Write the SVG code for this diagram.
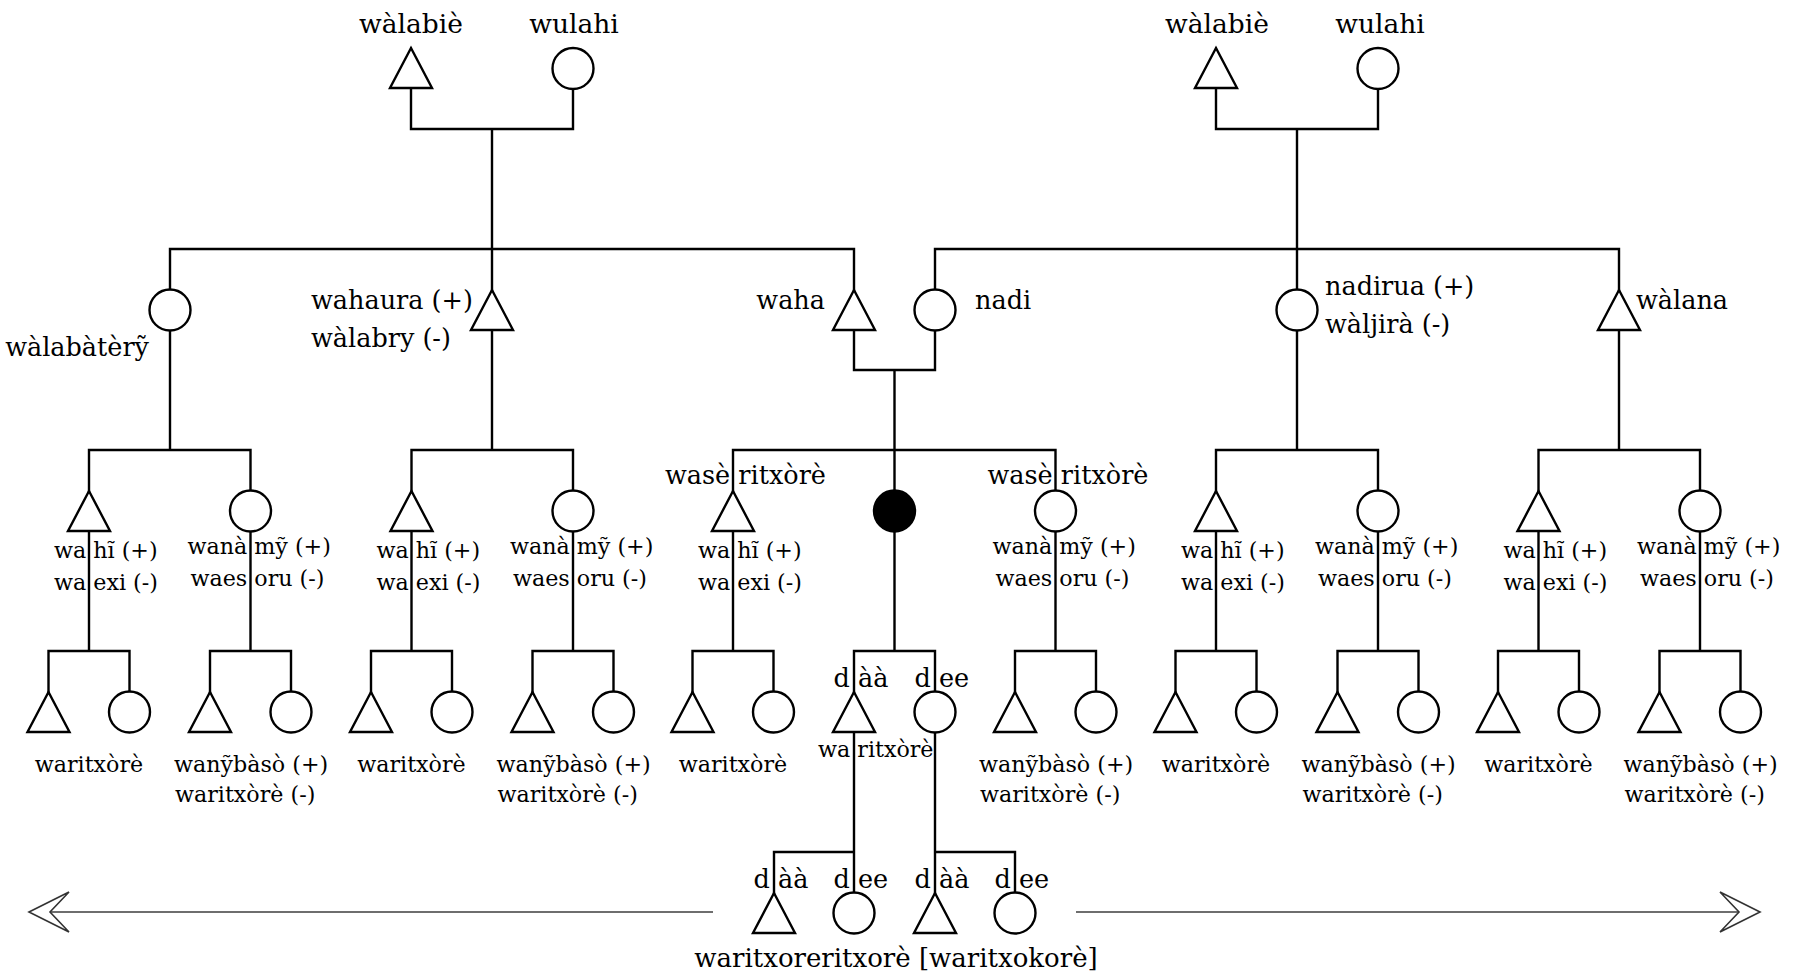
<svg xmlns="http://www.w3.org/2000/svg" xmlns:xlink="http://www.w3.org/1999/xlink" width="1796" height="976" viewBox="0 0 1796 976">
  <style>
    .ln { fill: none; stroke: #000; stroke-width: 2.4; stroke-linecap: square; }
    .nd { fill: #fff; stroke: #000; stroke-width: 2.4; stroke-linejoin: miter; }
    .ego { fill: #000; stroke: #000; stroke-width: 2.4; }
    .arr { fill: none; stroke: #6e6e6e; stroke-width: 2; }
    .head { fill: #fff; stroke: #333; stroke-width: 1.6; stroke-linejoin: miter; }
    text { font-family: "DejaVu Serif", "Liberation Serif", serif; fill: #000; }
    .t0 { font-size: 26.5px; text-anchor: middle; }
    .t1 { font-size: 25.5px; }
    .t2 { font-size: 22.2px; }
    .t3 { font-size: 26px; text-anchor: middle; }
    .mid { text-anchor: middle; }
    .end { text-anchor: end; }
  </style>
  <defs>
    <!-- male: apex at origin; female: centre at origin -->
    <path id="m" class="nd" d="M0,0 L21,40 L-21,40 Z"/>
    <circle id="f" class="nd" r="20.5"/>
  </defs>

  <rect width="1796" height="976" fill="#fff"/>

  <!-- kinship lines -->
  <g id="connectors" class="ln">
    <!-- grandparents -->
    <path d="M411,89 V129 H573 V89 M492,129 V290 M170,290 V249 H854 V290"/>
    <path d="M1216,89 V129 H1378 V89 M1297,129 V290 M935,290 V249 H1619 V290"/>
    <!-- first generation to second -->
    <path d="M170,330 V450 M89,491 V450 H250.5 V490.5"/>
    <path d="M492,330 V450 M411.5,491 V450 H573 V490.5"/>
    <path d="M854,330 V370 H935 V330 M894.5,370 V490.5 M733,491 V450 H1055.5 V490.5"/>
    <path d="M1297,330 V450 M1216,491 V450 H1378 V490.5"/>
    <path d="M1619,330 V450 M1538.5,491 V450 H1700 V490.5"/>
    <!-- second generation to third -->
    <path d="M89,531 V651 M48.5,692 V651 H129.5 V691.5"/>
    <path d="M250.5,531 V651 M210,692 V651 H291 V691.5"/>
    <path d="M411.5,531 V651 M371,692 V651 H452 V691.5"/>
    <path d="M573,531 V651 M532.5,692 V651 H613.5 V691.5"/>
    <path d="M733,531 V651 M692.5,692 V651 H773.5 V691.5"/>
    <path d="M894.5,531 V651 M854,692 V651 H935 V691.5"/>
    <path d="M1055.5,531 V651 M1015,692 V651 H1096 V691.5"/>
    <path d="M1216,531 V651 M1175.5,692 V651 H1256.5 V691.5"/>
    <path d="M1378,531 V651 M1337.5,692 V651 H1418.5 V691.5"/>
    <path d="M1538.5,531 V651 M1498,692 V651 H1579 V691.5"/>
    <path d="M1700,531 V651 M1659.5,692 V651 H1740.5 V691.5"/>
    <!-- twins to fourth generation -->
    <path d="M854,732 V892.5 M774,893 V852 H854"/>
    <path d="M935,732.5 V893 M935,852 H1015 V892.5"/>
  </g>

  <!-- generation 0 -->
  <g id="gp-left-m"><use xlink:href="#m" x="411" y="48"/><text class="t0" x="411" y="33">wàlabiè</text></g>
  <g id="gp-left-f"><use xlink:href="#f" x="573" y="68.5"/><text class="t0" x="574" y="33">wulahi</text></g>
  <g id="gp-right-m"><use xlink:href="#m" x="1216" y="48"/><text class="t0" x="1217" y="33">wàlabiè</text></g>
  <g id="gp-right-f"><use xlink:href="#f" x="1378" y="68.5"/><text class="t0" x="1380" y="33">wulahi</text></g>

  <!-- generation 1 -->
  <g id="walabateri"><use xlink:href="#f" x="170" y="310"/><text class="t1 end" x="149" y="356">wàlabàtèrỹ</text></g>
  <g id="wahaura"><use xlink:href="#m" x="492" y="290"/><text class="t1" x="311" y="309">wahaura (+)</text><text class="t1" x="311" y="347">wàlabry (-)</text></g>
  <g id="waha"><use xlink:href="#m" x="854" y="290"/><text class="t1 end" x="825" y="309">waha</text></g>
  <g id="nadi"><use xlink:href="#f" x="935" y="310"/><text class="t1" x="975" y="309">nadi</text></g>
  <g id="nadirua"><use xlink:href="#f" x="1297" y="310"/><text class="t1" x="1325" y="295">nadirua (+)</text><text class="t1" x="1325" y="333">wàljirà (-)</text></g>
  <g id="walana"><use xlink:href="#m" x="1619" y="290"/><text class="t1" x="1636" y="309">wàlana</text></g>

  <!-- generation 2 -->
  <g id="g2-1m"><use xlink:href="#m" x="89" y="491"/><text class="t2" x="54" y="558">wa hĩ (+)</text><text class="t2" x="54" y="590">wa exi (-)</text></g>
  <g id="g2-1f"><use xlink:href="#f" x="250.5" y="511"/><text class="t2" x="187.5" y="554">wanà mỹ (+)</text><text class="t2" x="190.5" y="586">waes oru (-)</text></g>
  <g id="g2-2m"><use xlink:href="#m" x="411.5" y="491"/><text class="t2" x="376.5" y="558">wa hĩ (+)</text><text class="t2" x="376.5" y="590">wa exi (-)</text></g>
  <g id="g2-2f"><use xlink:href="#f" x="573" y="511"/><text class="t2" x="510" y="554">wanà mỹ (+)</text><text class="t2" x="513" y="586">waes oru (-)</text></g>
  <g id="g2-3m"><use xlink:href="#m" x="733" y="491"/><text class="t1" x="665" y="484">wasè ritxòrè</text><text class="t2" x="698" y="558">wa hĩ (+)</text><text class="t2" x="698" y="590">wa exi (-)</text></g>
  <g id="ego"><circle class="ego" cx="894.5" cy="511" r="20.5"/></g>
  <g id="g2-3f"><use xlink:href="#f" x="1055.5" y="511"/><text class="t1" x="987.5" y="484">wasè ritxòrè</text><text class="t2" x="992.5" y="554">wanà mỹ (+)</text><text class="t2" x="995.5" y="586">waes oru (-)</text></g>
  <g id="g2-4m"><use xlink:href="#m" x="1216" y="491"/><text class="t2" x="1181" y="558">wa hĩ (+)</text><text class="t2" x="1181" y="590">wa exi (-)</text></g>
  <g id="g2-4f"><use xlink:href="#f" x="1378" y="511"/><text class="t2" x="1315" y="554">wanà mỹ (+)</text><text class="t2" x="1318" y="586">waes oru (-)</text></g>
  <g id="g2-5m"><use xlink:href="#m" x="1538.5" y="491"/><text class="t2" x="1503.5" y="558">wa hĩ (+)</text><text class="t2" x="1503.5" y="590">wa exi (-)</text></g>
  <g id="g2-5f"><use xlink:href="#f" x="1700" y="511"/><text class="t2" x="1637" y="554">wanà mỹ (+)</text><text class="t2" x="1640" y="586">waes oru (-)</text></g>

  <!-- generation 3 -->
  <g id="g3-1m"><use xlink:href="#m" x="48.5" y="692"/><use xlink:href="#f" x="129.5" y="712"/><text class="t2 mid" x="89" y="772">waritxòrè</text></g>
  <g id="g3-1f"><use xlink:href="#m" x="210" y="692"/><use xlink:href="#f" x="291" y="712"/><text class="t2" x="174" y="772">wanỹbàsò (+)</text><text class="t2" x="175" y="802">waritxòrè (-)</text></g>
  <g id="g3-2m"><use xlink:href="#m" x="371" y="692"/><use xlink:href="#f" x="452" y="712"/><text class="t2 mid" x="411.5" y="772">waritxòrè</text></g>
  <g id="g3-2f"><use xlink:href="#m" x="532.5" y="692"/><use xlink:href="#f" x="613.5" y="712"/><text class="t2" x="496.5" y="772">wanỹbàsò (+)</text><text class="t2" x="497.5" y="802">waritxòrè (-)</text></g>
  <g id="g3-3m"><use xlink:href="#m" x="692.5" y="692"/><use xlink:href="#f" x="773.5" y="712"/><text class="t2 mid" x="733" y="772">waritxòrè</text></g>
  <g id="twin-daa"><use xlink:href="#m" x="854" y="692"/><text class="t1" x="833.5" y="687">d àà</text><text class="t2" x="818" y="757">wa ritxòrè</text></g>
  <g id="twin-dee"><use xlink:href="#f" x="935" y="712"/><text class="t1" x="914.5" y="687">d ee</text></g>
  <g id="g3-3f"><use xlink:href="#m" x="1015" y="692"/><use xlink:href="#f" x="1096" y="712"/><text class="t2" x="979" y="772">wanỹbàsò (+)</text><text class="t2" x="980" y="802">waritxòrè (-)</text></g>
  <g id="g3-4m"><use xlink:href="#m" x="1175.5" y="692"/><use xlink:href="#f" x="1256.5" y="712"/><text class="t2 mid" x="1216" y="772">waritxòrè</text></g>
  <g id="g3-4f"><use xlink:href="#m" x="1337.5" y="692"/><use xlink:href="#f" x="1418.5" y="712"/><text class="t2" x="1301.5" y="772">wanỹbàsò (+)</text><text class="t2" x="1302.5" y="802">waritxòrè (-)</text></g>
  <g id="g3-5m"><use xlink:href="#m" x="1498" y="692"/><use xlink:href="#f" x="1579" y="712"/><text class="t2 mid" x="1538.5" y="772">waritxòrè</text></g>
  <g id="g3-5f"><use xlink:href="#m" x="1659.5" y="692"/><use xlink:href="#f" x="1740.5" y="712"/><text class="t2" x="1623.5" y="772">wanỹbàsò (+)</text><text class="t2" x="1624.5" y="802">waritxòrè (-)</text></g>

  <!-- generation 4: children of the twins -->
  <g id="g4-1m"><use xlink:href="#m" x="774" y="893"/><text class="t1" x="753.5" y="888">d àà</text></g>
  <g id="g4-1f"><use xlink:href="#f" x="854" y="913"/><text class="t1" x="833.5" y="888">d ee</text></g>
  <g id="g4-2m"><use xlink:href="#m" x="935" y="893"/><text class="t1" x="914.5" y="888">d àà</text></g>
  <g id="g4-2f"><use xlink:href="#f" x="1015" y="913"/><text class="t1" x="994.5" y="888">d ee</text></g>
  <g id="g4-label"><text class="t3" x="896" y="967">waritxoreritxorè [waritxokorè]</text></g>

  <!-- continuing line in both directions -->
  <g id="continuation">
    <path class="arr" d="M50,912 H713 M1076,912 H1739"/>
    <path class="head" d="M29,912 L69,892 L50,912 L69,932 Z"/>
    <path class="head" d="M1760,912 L1720,892 L1739,912 L1720,932 Z"/>
  </g>
</svg>
